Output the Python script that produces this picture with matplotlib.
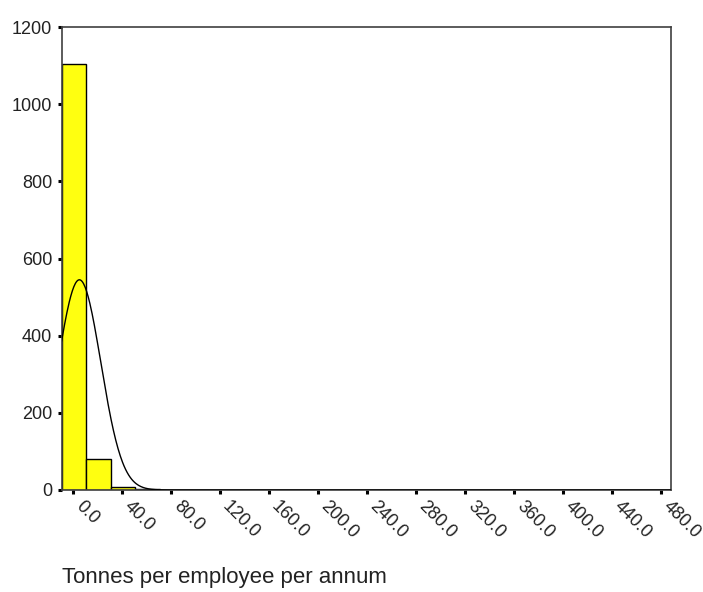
import numpy as np
import matplotlib
matplotlib.use('Agg')
import matplotlib.pyplot as plt
import matplotlib.transforms as mtransforms

# histogram of tonnes per employee per annum (bins of width 20)
bin_left = [-9, 11, 31, 51, 71, 91]
counts = [1104, 80, 7, 2, 1, 1]
bin_width = 20

# fitted normal curve parameters
curve_mean = 5.5
curve_sd = 17.5
n_cases = 1195

xticks = [0, 40, 80, 120, 160, 200, 240, 280, 320, 360, 400, 440, 480]
yticks = [0, 200, 400, 600, 800, 1000, 1200]

plt.rcParams['font.family'] = ['Liberation Sans', 'DejaVu Sans']

fig = plt.figure(figsize=(7.03, 5.92), dpi=100)
ax = fig.add_axes([62 / 703, 1 - 490 / 592, (671 - 62) / 703, (490 - 27) / 592])

ax.bar(bin_left, counts, width=bin_width, align='edge',
       color='#ffff10', edgecolor='black', linewidth=1, zorder=2)

xs = np.linspace(-9, 488, 800)
ys = n_cases * bin_width / (curve_sd * np.sqrt(2 * np.pi)) * np.exp(-0.5 * ((xs - curve_mean) / curve_sd) ** 2)
ax.plot(xs, ys, color='black', linewidth=1, zorder=3)

ax.set_xlim(-8.7, 488.5)
ax.set_ylim(0, 1200)
ax.set_xticks(xticks)
ax.set_xticklabels(['%.1f' % t for t in xticks], rotation=-45,
                   ha='left', va='center', rotation_mode='anchor')
ax.set_yticks(yticks)
ax.set_yticklabels([str(t) for t in yticks])
ax.tick_params(axis='both', direction='out', length=3, width=2.2, labelsize=13,
               color='black', labelcolor='#222222')
ax.tick_params(axis='y', pad=4)
ax.tick_params(axis='x', pad=7)

# nudge the slanted labels to the right of their ticks
shift = mtransforms.ScaledTranslation(4 / 72, 0, fig.dpi_scale_trans)
for lbl in ax.get_xticklabels():
    lbl.set_transform(lbl.get_transform() + shift)

for side in ['top', 'right', 'left', 'bottom']:
    ax.spines[side].set_color('#404040')
    ax.spines[side].set_linewidth(1.2)

fig.text(62 / 703, 1 - 578 / 592, 'Tonnes per employee per annum',
         fontsize=16, ha='left', va='center', color='#222222')

fig.savefig('out.png', dpi=100)
